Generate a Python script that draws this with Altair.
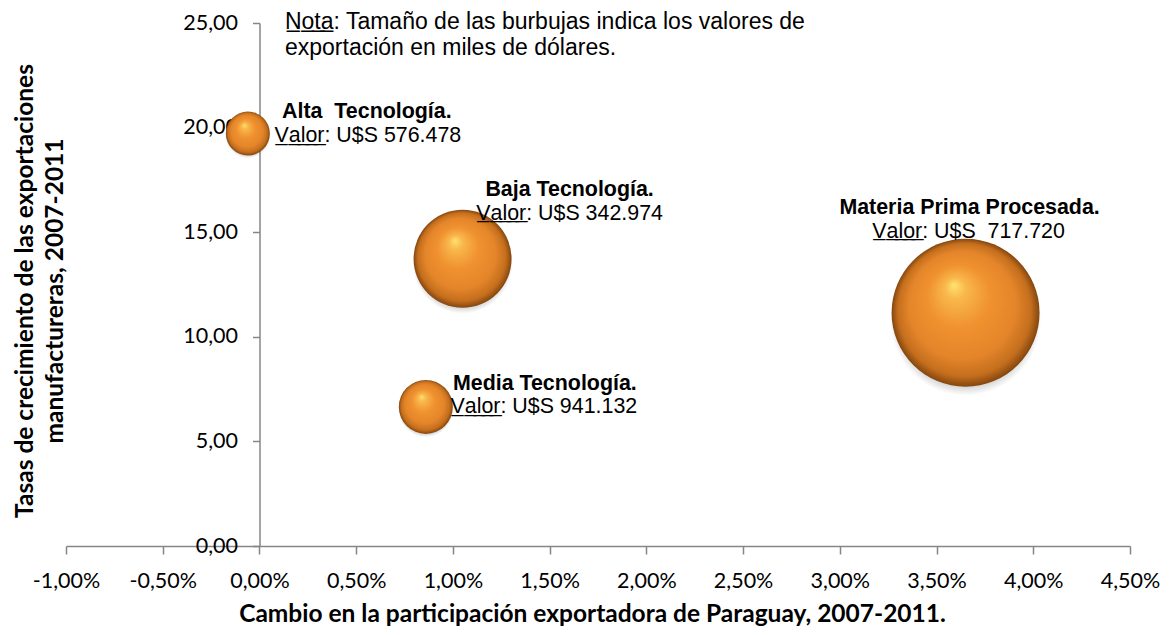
import altair as alt
import pandas as pd

# ---- data ----
categorias = ["Alta\u00a0 Tecnología.", "Baja Tecnología.", "Media Tecnología.", "Materia Prima Procesada."]
valores_exportacion = ["576.478", "342.974", "941.132", "\u00a0717.720"]
cambio_participacion = [-0.0006, 0.0105, 0.0086, 0.0365]   # fraction (x axis, %)
tasa_crecimiento = [19.72, 13.73, 6.65, 11.15]              # y axis
tamano_burbuja = [484, 2401, 729, 5476]                     # relative bubble area as drawn

x_ticks = [-0.01, -0.005, 0.0, 0.005, 0.01, 0.015, 0.02, 0.025, 0.03, 0.035, 0.04, 0.045]
y_ticks = [0, 5, 10, 15, 20, 25]

nota_lineas = ["N\u0332o\u0332t\u0332a\u0332: Tamaño de las burbujas indica los valores de",
               "exportación en miles de dólares."]
titulo_x = "Cambio en la participación exportadora de Paraguay, 2007-2011."
titulo_y = ["Tasas de crecimiento de las exportaciones", "manufactureras, 2007-2011"]

# ---- layout / style ----
W, H = 1064, 523
AXIS_FONT = "Lato"
LABEL_FONT = "Liberation Sans"
GRAY = "#868686"

df = pd.DataFrame({
    "cat": categorias,
    "valor": ["V\u0332a\u0332l\u0332o\u0332r\u0332: U$S " + v for v in valores_exportacion],
    "x": cambio_participacion,
    "y": tasa_crecimiento,
    "tam": tamano_burbuja,
})

xscale = alt.Scale(domain=[-0.01, 0.045], nice=False, zero=False)
yscale = alt.Scale(domain=[0, 25], nice=False, zero=False)
sscale = alt.Scale(domain=[0, 5476], range=[0, 4 * 5476])

fmt_x = "replace(replace(format(datum.value, '.2%'), '.', ','), '\u2212', '-')"
fmt_y = "replace(format(datum.value, '.2f'), '.', ',')"

x_axis = alt.Axis(values=x_ticks, grid=False, labelExpr=fmt_x,
                  labelFont=AXIS_FONT, labelFontSize=21.5, labelColor="#000000",
                  labelPadding=16, labelFlush=False, labelOverlap=False,
                  domainColor=GRAY, tickColor=GRAY, tickSize=8, domainWidth=1.5, tickWidth=1.5,
                  title=titulo_x, titleFont=AXIS_FONT, titleFontSize=24.5,
                  titleFontWeight="bold", titleColor="#000000", titlePadding=11,
                  titleX=526)
y_axis = alt.Axis(values=y_ticks, grid=False, offset=-193.5, labelExpr=fmt_y,
                  labelFont=AXIS_FONT, labelFontSize=21.5, labelColor="#000000",
                  labelPadding=15, labelFlush=False, labelOverlap=False,
                  domainColor=GRAY, tickColor=GRAY, tickSize=7, domainWidth=1.5, tickWidth=1.5,
                  title=None)

X = alt.X("x:Q", scale=xscale, axis=x_axis)
Y = alt.Y("y:Q", scale=yscale, axis=y_axis)
S = alt.Size("tam:Q", scale=sscale, legend=None)

grad = alt.Gradient(
    gradient="radial",
    x1=0.42, y1=0.31, r1=0.0,
    x2=0.5, y2=0.5, r2=0.5,
    stops=[
        alt.GradientStop(color="#FFE372", offset=0.0),
        alt.GradientStop(color="#F9B84C", offset=0.14),
        alt.GradientStop(color="#F0922F", offset=0.42),
        alt.GradientStop(color="#E4852A", offset=0.72),
        alt.GradientStop(color="#C46E1D", offset=0.9),
        alt.GradientStop(color="#83460F", offset=1.0),
    ],
)

shadow_grad = alt.Gradient(
    gradient="radial",
    x1=0.5, y1=0.5, r1=0.0,
    x2=0.5, y2=0.5, r2=0.5,
    stops=[
        alt.GradientStop(color="rgba(80,80,80,0.35)", offset=0.82),
        alt.GradientStop(color="rgba(80,80,80,0.0)", offset=1.0),
    ],
)
shadow_shape = "M -1.02 0.1 A 1.02 1.02 0 1 1 1.02 0.1 A 1.02 1.02 0 1 1 -1.02 0.1 Z"

base = alt.Chart(df)

shadows = base.mark_point(shape=shadow_shape, filled=True, fill=shadow_grad, opacity=1,
                          strokeWidth=0).encode(x=X, y=Y, size=S)

bubbles = base.mark_circle(opacity=1, fill=grad, strokeWidth=0).encode(x=X, y=Y, size=S)

# label offsets (px) relative to bubble centre, per category
name_off = [(119, -21), (107, -69), (119, -23), (4, -105)]
val_off = [(120, 3), (107, -45), (118, 0), (3, -81)]

layers = [shadows, bubbles]
for i, cat in enumerate(categorias):
    sub = base.transform_filter(alt.datum.cat == cat)
    layers.append(sub.mark_text(font=LABEL_FONT, fontSize=21.4, fontWeight="bold", color="#000000",
                                align="center", baseline="middle",
                                dx=name_off[i][0], dy=name_off[i][1]).encode(
        x=X, y=Y, text="cat:N"))
    layers.append(sub.mark_text(font=LABEL_FONT, fontSize=21.4, color="#000000",
                                align="center", baseline="middle",
                                dx=val_off[i][0], dy=val_off[i][1]).encode(
        x=X, y=Y, text="valor:N"))

# note text anchored at the top of the y axis
for j, line in enumerate(nota_lineas):
    layers.append(alt.Chart(pd.DataFrame({"t": [line], "x": [0.0], "y": [25.0]})).mark_text(
        font=LABEL_FONT, fontSize=23, color="#000000", align="left", baseline="middle",
        dx=25.5, dy=-1.5 + 26 * j).encode(x=X, y=Y, text="t:N"))

# y title (two rotated lines)
for j, line in enumerate(titulo_y):
    layers.append(alt.Chart(pd.DataFrame({"t": [line]})).mark_text(
        font=AXIS_FONT, fontSize=24.5, fontWeight="bold", color="#000000", angle=270,
        align="center", baseline="middle").encode(
        x=alt.value(-40 + 30 * j), y=alt.value(268), text="t:N"))

chart = alt.layer(*layers).properties(
    width=W, height=H,
    autosize=alt.AutoSizeParams(type="none"),
    padding={"left": 58, "top": 15, "right": 38, "bottom": 81},
    background="#ffffff",
).configure_view(stroke=None)

chart.save("out.html", embed_options={"renderer": "svg", "actions": False})
